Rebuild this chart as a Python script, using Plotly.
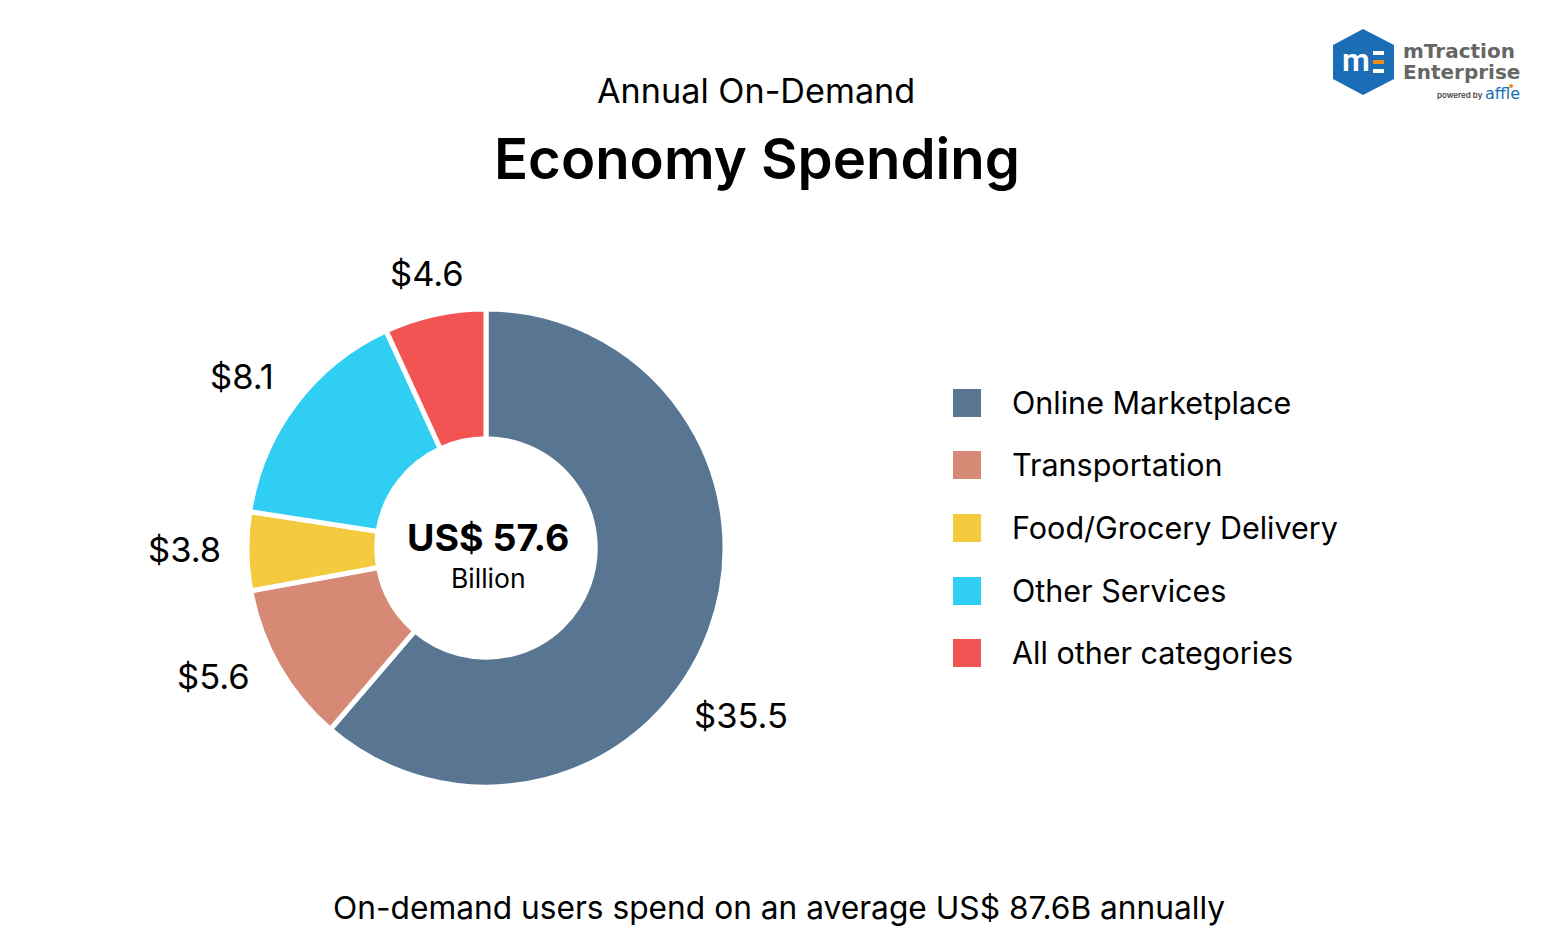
import plotly.graph_objects as go

categories = ['Online Marketplace', 'Transportation', 'Food/Grocery Delivery', 'Other Services', 'All other categories']
# arc sizes as drawn in the picture, they don't follow the printed labels exactly
slice_values = [35.3, 6.25, 3.05, 9.05, 3.95]
labels = ['$35.5', '$5.6', '$3.8', '$8.1', '$4.6']
colors = ['#587592', '#D68A75', '#F4CA3E', '#31CEF3', '#F25454']

W, H = 1559, 938
FONT = 'Inter'

fig = go.Figure(go.Pie(
    labels=categories,
    values=slice_values,
    textinfo='none',
    hole=0.457,
    sort=False,
    direction='clockwise',
    rotation=0,
    marker=dict(colors=colors, line=dict(color='white', width=5)),
    domain=dict(x=[247 / W, 725 / W], y=[1 - 787 / H, 1 - 309 / H]),
    showlegend=False,
))


def px_text(x, y, s, size, weight=400, anchor='center', color='black', family=FONT):
    fig.add_annotation(x=x / W, y=1 - y / H, xref='paper', yref='paper', text=s, showarrow=False,
                       xanchor=anchor, yanchor='middle', borderpad=0,
                       font=dict(size=size, color=color, family=family, weight=weight))


def px_rect(x0, y0, x1, y1, col):
    fig.add_shape(type='rect', xref='paper', yref='paper', x0=x0 / W, x1=x1 / W,
                  y0=1 - y1 / H, y1=1 - y0 / H, fillcolor=col, line_width=0)


px_text(756, 91, 'Annual On-Demand', 34.2)
px_text(757, 158, 'Economy Spending', 56.3, 600)
px_text(488, 537, 'US$ 57.6', 37.5, 700)
px_text(488, 578, 'Billion', 26.5)
px_text(779, 907, 'On-demand users spend on an average US$ 87.6B annually', 31.7)

# value labels sit off the slices, placed by hand
label_xy = [(741, 715), (213, 676), (184, 549), (242, 376), (427, 274)]
for s, (x, y) in zip(labels, label_xy):
    px_text(x, y, s, 34.5)

# legend drawn by hand, spacing is wider than the plotly legend allows
leg_y = [403, 465, 528, 591, 653]
for name, col, y in zip(categories, colors, leg_y):
    px_rect(953, y - 14, 981, y + 14, col)
    px_text(1011, y - 0.5, name, 30.5, anchor='left')

# logo
fig.add_shape(type='path', xref='paper', yref='paper', fillcolor='#1B6EB5', line_width=0,
              path='M {} {} L {} {} L {} {} L {} {} L {} {} L {} {} Z'.format(
                  1363 / W, 1 - 29 / H, 1394 / W, 1 - 45 / H, 1394 / W, 1 - 79 / H,
                  1363 / W, 1 - 95 / H, 1333 / W, 1 - 79 / H, 1333 / W, 1 - 45 / H))
px_text(1356, 60, 'm', 32, 600, color='white', family='Roboto')
px_rect(1373, 51, 1384, 55, 'white')
px_rect(1373, 60, 1384, 64, '#F08A1D')
px_rect(1373, 69, 1384, 73, 'white')
px_text(1402, 51, 'mTraction', 20, 700, anchor='left', color='#666666', family='DejaVu Sans')
px_text(1402, 72, 'Enterprise', 20, 700, anchor='left', color='#666666', family='DejaVu Sans')
px_text(1460, 95, 'powered by', 8, 600, color='#444444')
px_text(1502, 94, 'affle', 16, 500, color='#1B6EB5', family='DejaVu Sans')
fig.add_shape(type='circle', xref='paper', yref='paper', x0=1509 / W, x1=1513 / W,
              y0=1 - 88 / H, y1=1 - 84 / H, fillcolor='#F08A1D', line_width=0)

fig.update_layout(width=W, height=H, autosize=False, margin=dict(l=0, r=0, t=0, b=0),
                  paper_bgcolor='white', plot_bgcolor='white', showlegend=False)

fig.write_html('out.html', config=dict(displayModeBar=False), post_script="document.body.style.margin='0';")
